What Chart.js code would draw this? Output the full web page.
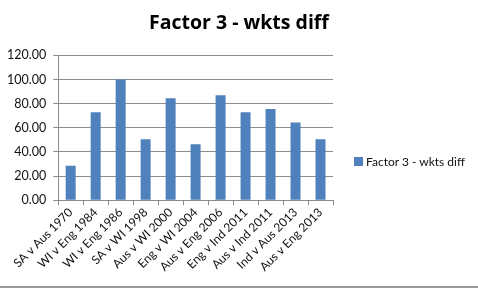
<!DOCTYPE html>
<html>
<head>
<meta charset="utf-8">
<script src="https://cdn.jsdelivr.net/npm/chart.js@4/dist/chart.umd.min.js"></script>
<style>
  html, body { margin: 0; padding: 0; background: #fff; }
  #wrap { position: relative; width: 478px; height: 286px; border-bottom: 2px solid #9a9a9a; }
  #legend { position: absolute; left: 354px; top: 154px; font: 12px Lato, "Open Sans", sans-serif; color: #111; white-space: nowrap; }
  #legend span.box { display: inline-block; width: 9px; height: 9px; margin-right: 3px; }
</style>
</head>
<body>
<div id="wrap">
  <canvas id="c" width="478" height="286"></canvas>
  <div id="legend"></div>
</div>
<script>
const chartTitle = "Factor 3 - wkts diff";
const seriesName = "Factor 3 - wkts diff";
const categories = ["SA v Aus 1970", "WI v Eng 1984", "WI v Eng 1986", "SA v WI 1998", "Aus v WI 2000", "Eng v WI 2004", "Aus v Eng 2006", "Eng v Ind 2011", "Aus v Ind 2011", "Ind v Aus 2013", "Aus v Eng 2013"];
const values = [28.5, 73, 100, 50.5, 84.5, 46.5, 87, 73, 75.5, 64.5, 50.5];
const yTicks = [0, 20, 40, 60, 80, 100, 120];

const barColor = "#4F81BD";
const gridColor = "#8c8c8c";
const fontFam = "Lato, 'Open Sans', sans-serif";

const chart = new Chart(document.getElementById("c"), {
  type: "bar",
  data: {
    labels: categories,
    datasets: [{
      label: seriesName,
      data: values,
      backgroundColor: barColor,
      borderWidth: 0,
      barPercentage: 0.4,
      categoryPercentage: 1.0
    }]
  },
  options: {
    responsive: false,
    animation: false,
    layout: { padding: { left: 0, right: 0, top: 8, bottom: 12 } },
    plugins: {
      legend: { display: false },
      tooltip: { enabled: false },
      title: {
        display: true,
        text: chartTitle,
        color: "#000",
        font: { family: "'Open Sans', Lato, sans-serif", size: 19.5, weight: "bold" },
        padding: { top: 4, bottom: 20 }
      }
    },
    scales: {
      x: {
        offset: true,
        grid: { display: true, offset: true, drawOnChartArea: false, drawTicks: true, tickLength: 5, color: gridColor },
        border: { display: true, color: gridColor },
        ticks: {
          color: "#111",
          font: { family: fontFam, size: 12 },
          maxRotation: 45, minRotation: 45, autoSkip: false, padding: 0
        }
      },
      y: {
        min: 0, max: 120,
        afterBuildTicks: (axis) => { axis.ticks = yTicks.map(v => ({ value: v })); },
        grid: { color: gridColor, tickLength: 5, drawTicks: true },
        border: { display: true, color: gridColor },
        ticks: {
          color: "#111",
          font: { family: fontFam, size: 12.5 },
          padding: 7,
          callback: (v) => Number(v).toFixed(2)
        }
      },
      legendSpace: {
        type: "linear",
        position: "right",
        display: true,
        grid: { display: false, drawTicks: false },
        border: { display: false },
        ticks: { display: false },
        afterFit: (s) => { s.width = 145; }
      }
    }
  }
});

const lg = document.getElementById("legend");
const ds = chart.data.datasets[0];
lg.innerHTML = '<span class="box" style="background:' + ds.backgroundColor + '"></span>' + ds.label;
</script>
</body>
</html>
